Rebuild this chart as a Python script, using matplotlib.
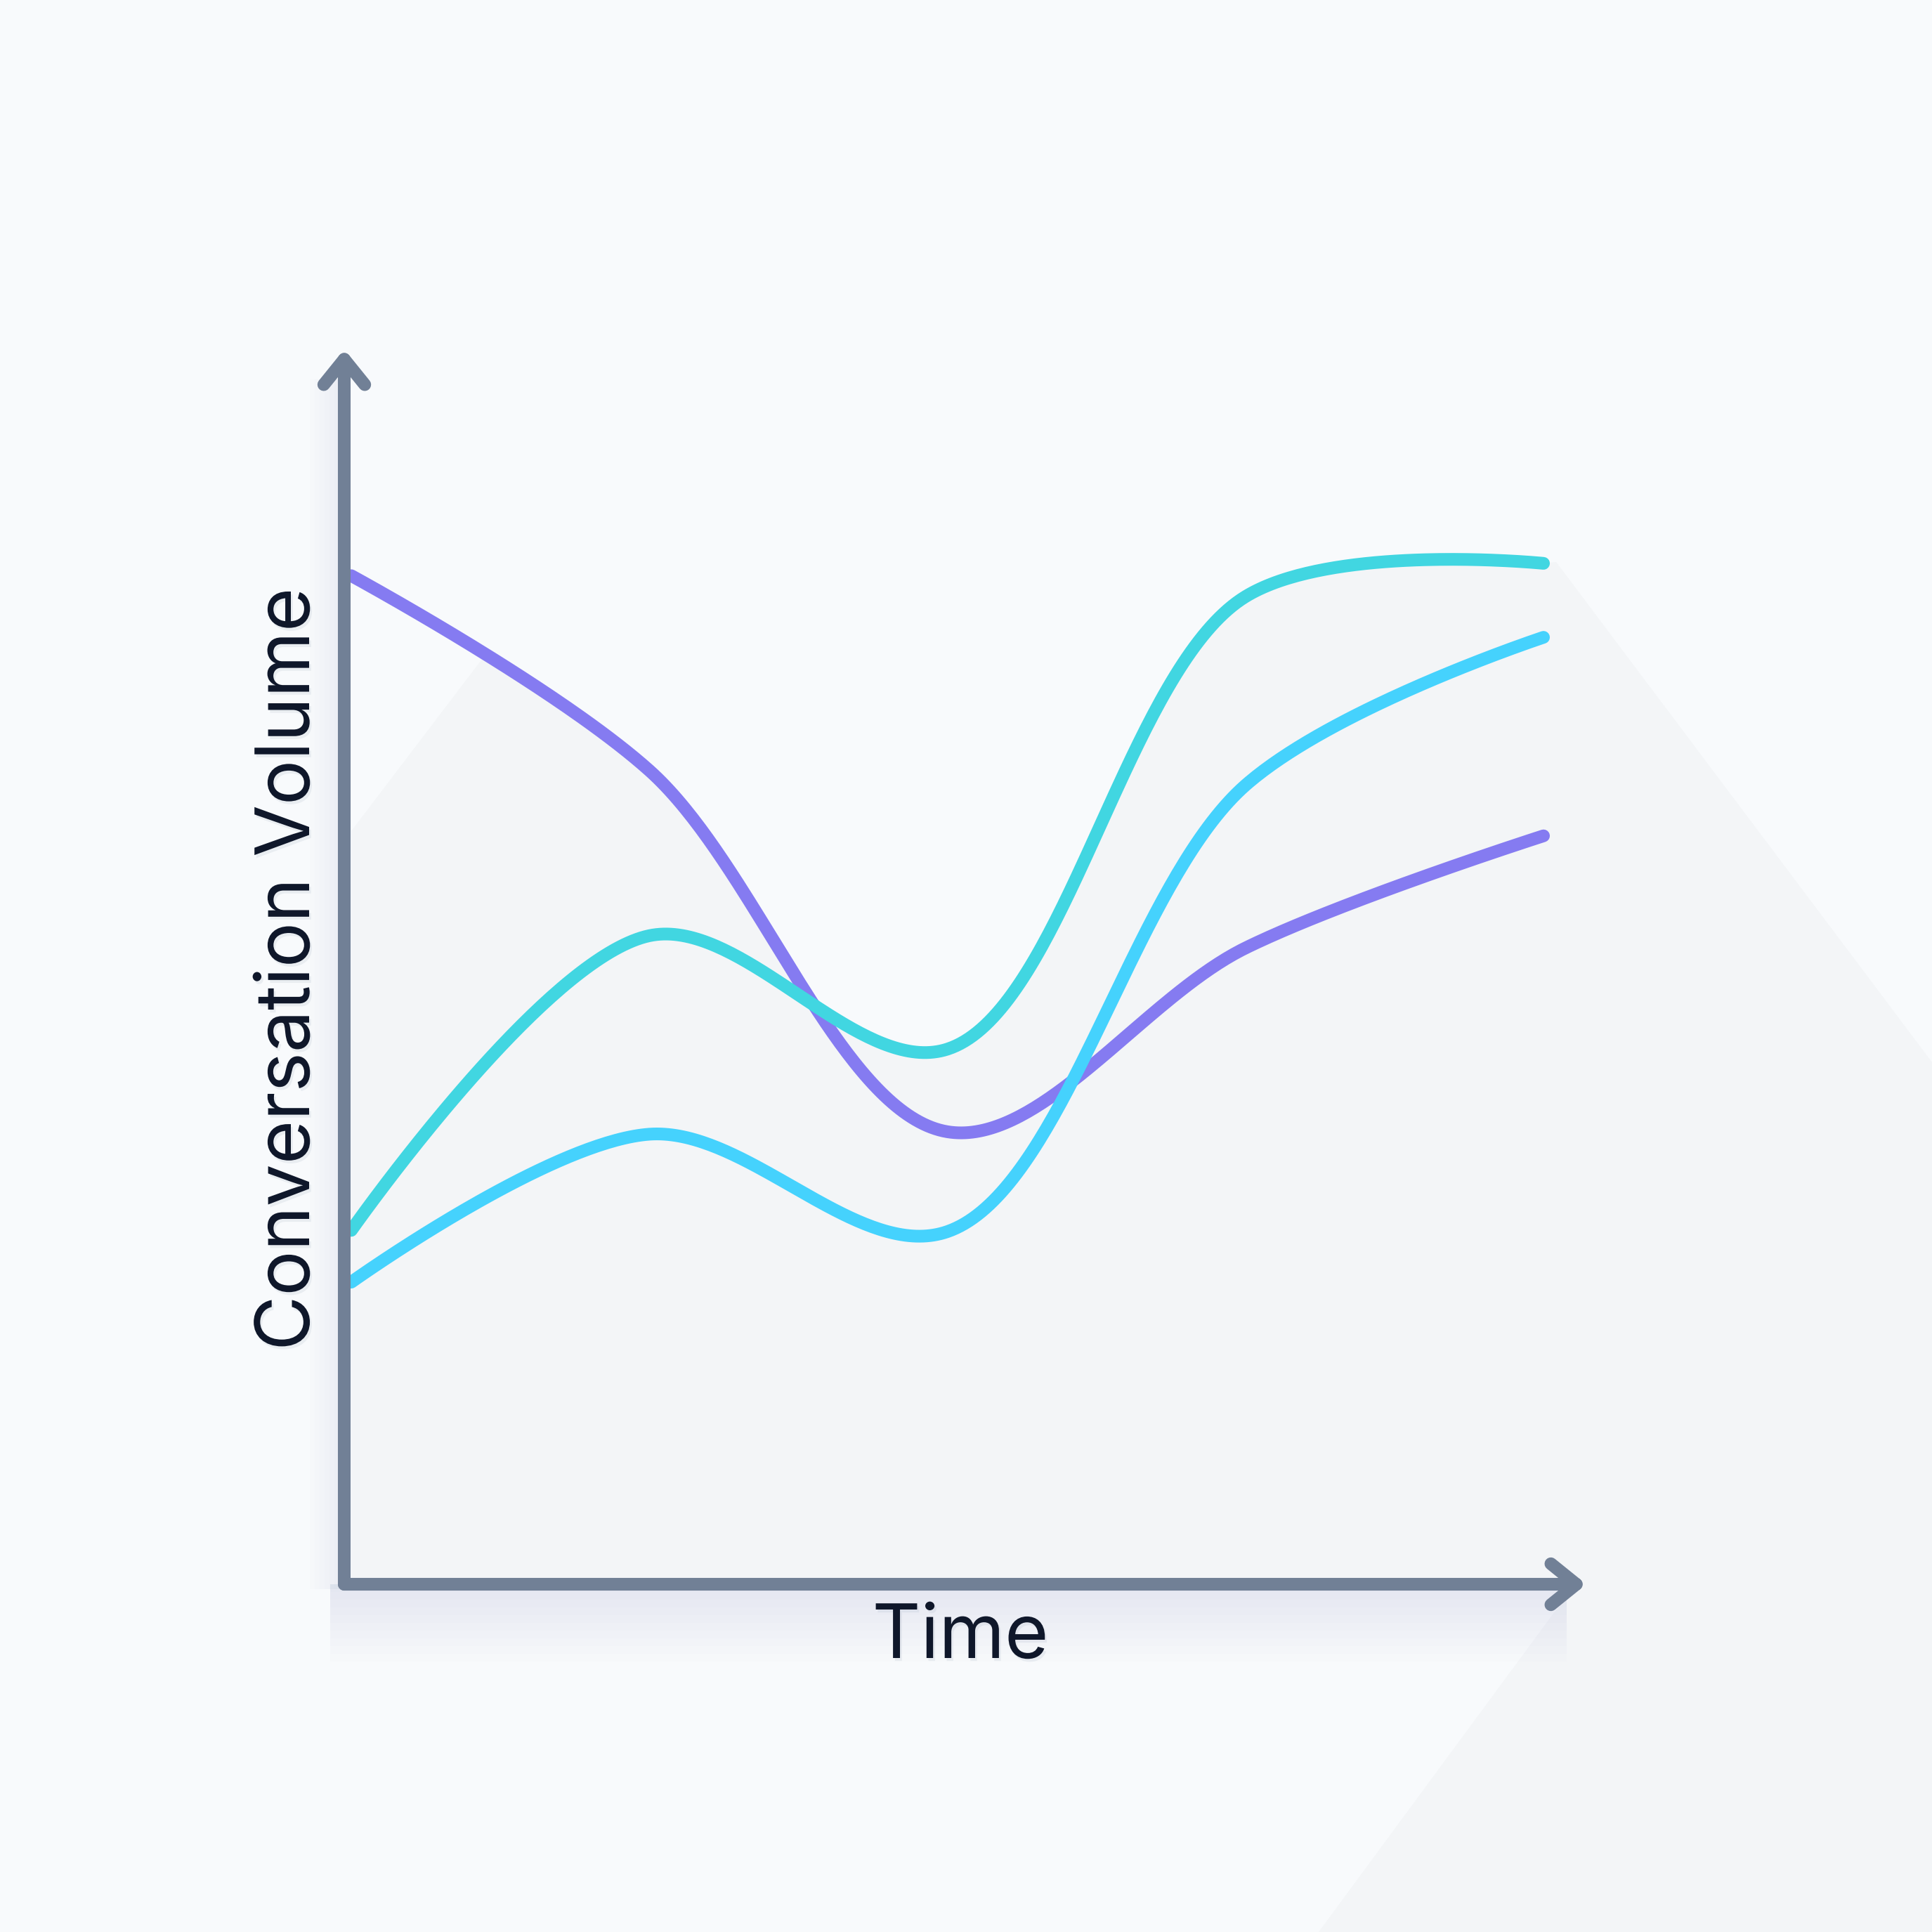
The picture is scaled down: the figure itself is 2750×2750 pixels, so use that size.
import numpy as np
import matplotlib.pyplot as plt
from matplotlib.patches import FancyArrowPatch, Polygon, Rectangle
import matplotlib.patheffects as pe

plt.rcParams['font.family'] = ['Inter', 'DejaVu Sans']

# data (arbitrary volume units, 5 time steps)
time_idx = [0, 1, 2, 3, 4]
purple_vals = [81.8, 66.0, 36.7, 51.6, 60.7]
teal_vals = [28.7, 52.6, 43.4, 80.1, 82.8]
cyan_vals = [24.5, 36.5, 28.6, 64.8, 76.8]

series_vals = [purple_vals, teal_vals, cyan_vals]
series_colors = ['#857bf1', '#41d6e1', '#45d2fd']

BG = '#f8fafc'
SHADOW = '#f3f5f7'
AXIS = '#718096'
TEXT = '#0f172a'
W = 2750.0


def px(x, y):
    # pixel position (from top-left) -> figure fraction
    return (x / W, 1 - y / W)


fig = plt.figure(figsize=(27.5, 27.5), dpi=100)
fig.patch.set_facecolor(BG)

# axes box: from axis lines to arrow tips
ax_l, ax_r, ax_t, ax_b = 490, 2258, 497, 2255
ax = fig.add_axes([ax_l / W, 1 - ax_b / W, (ax_r - ax_l) / W, (ax_b - ax_t) / W])
ax.set_facecolor('none')
ax.axis('off')
unit = (2197 - 500) / 4
ax.set_xlim(-(500 - ax_l) / unit, 4 + (ax_r - 2197) / unit)
ax.set_ylim(0, 100 * (ax_b - ax_t) / (2255 - 500))


def catmull_rom(xs, ys, alpha=0.5, n=80):
    # centripetal catmull-rom, computed in screen space like d3.curveCatmullRom
    P = ax.transData.transform(np.column_stack([xs, ys]))
    k = len(P)
    out = []
    for i in range(k - 1):
        p0 = P[i - 1] if i > 0 else P[i]
        p1, p2 = P[i], P[i + 1]
        p3 = P[i + 2] if i + 2 < k else P[i + 1]
        d01, d12, d23 = [np.hypot(*(b - a)) for a, b in [(p0, p1), (p1, p2), (p2, p3)]]
        l01a, l12a, l23a = d01**alpha, d12**alpha, d23**alpha
        l01_2a, l12_2a, l23_2a = d01**(2 * alpha), d12**(2 * alpha), d23**(2 * alpha)
        c1 = p1.copy()
        if l01a > 1e-9:
            a = 2 * l01_2a + 3 * l01a * l12a + l12_2a
            nn = 3 * l01a * (l01a + l12a)
            c1 = (p1 * a - p0 * l12_2a + p2 * l01_2a) / nn
        c2 = p2.copy()
        if l23a > 1e-9:
            b = 2 * l23_2a + 3 * l23a * l12a + l12_2a
            m = 3 * l23a * (l23a + l12a)
            c2 = (p2 * b + p1 * l23_2a - p3 * l12_2a) / m
        t = np.linspace(0, 1, n)[:, None]
        seg = (1 - t)**3 * p1 + 3 * (1 - t)**2 * t * c1 + 3 * (1 - t) * t**2 * c2 + t**3 * p2
        out.append(seg if i == 0 else seg[1:])
    return ax.transData.inverted().transform(np.vstack(out))


curves = [catmull_rom(time_idx, v) for v in series_vals]

# long flat shadow behind the plot
grid = np.linspace(0, 4, 400)
env_y = np.max([np.interp(grid, c[:, 0], c[:, 1]) for c in curves], axis=0)
disp = ax.transData.transform(np.column_stack([grid, env_y]))
disp = disp[disp[:, 0] >= 690]
env_fig = fig.transFigure.inverted().transform(disp)
extra = [px(2215, 800), px(2750, 1512), px(2750, 2750), px(1877, 2750),
         px(2213, 2294), px(2250, 2257), px(500, 2257), px(500, 1183)]
poly_pts = np.vstack([env_fig, np.array(extra)])
fig.add_artist(Polygon(poly_pts, closed=True, transform=fig.transFigure,
                       facecolor=SHADOW, edgecolor='none', zorder=-2))

# soft shadow under x-axis and left of y-axis
for k in range(1, 11):
    fig.add_artist(Rectangle(px(470, 2255 + k * 11), (2230 - 470) / W, k * 11 / W,
                             transform=fig.transFigure, facecolor='#8a94a6',
                             alpha=0.01, edgecolor='none', zorder=-1))
for k in range(1, 8):
    fig.add_artist(Rectangle(px(490 - k * 7, 2262), k * 7 / W, (2262 - 540) / W,
                             transform=fig.transFigure, facecolor='#8a94a6',
                             alpha=0.01, edgecolor='none', zorder=-1))

# lines
for c, col in zip(curves, series_colors):
    ax.plot(c[:, 0], c[:, 1], color=col, lw=13, solid_capstyle='round',
            solid_joinstyle='round', clip_on=False, zorder=3)

# axis arrows
for end in [(0, 1), (1, 0)]:
    arr = FancyArrowPatch((0, 0), end, transform=ax.transAxes,
                          arrowstyle='->,head_length=26,head_width=21',
                          mutation_scale=1, color=AXIS, lw=13,
                          capstyle='round', joinstyle='round',
                          shrinkA=0, shrinkB=0, clip_on=False, zorder=4)
    ax.add_patch(arr)

shadow_fx = [pe.withSimplePatchShadow(offset=(2, -3), shadow_rgbFace='#94a3b8', alpha=0.15)]
fig.text(412 / W, 1 - 1380 / W, 'Conversation Volume', rotation=90,
         ha='center', va='center', fontsize=77, color=TEXT, path_effects=shadow_fx)
fig.text(1367 / W, 1 - 2332 / W, 'Time', ha='center', va='center',
         fontsize=77, color=TEXT, path_effects=shadow_fx)

fig.savefig('out.png', dpi=100, facecolor=BG)
